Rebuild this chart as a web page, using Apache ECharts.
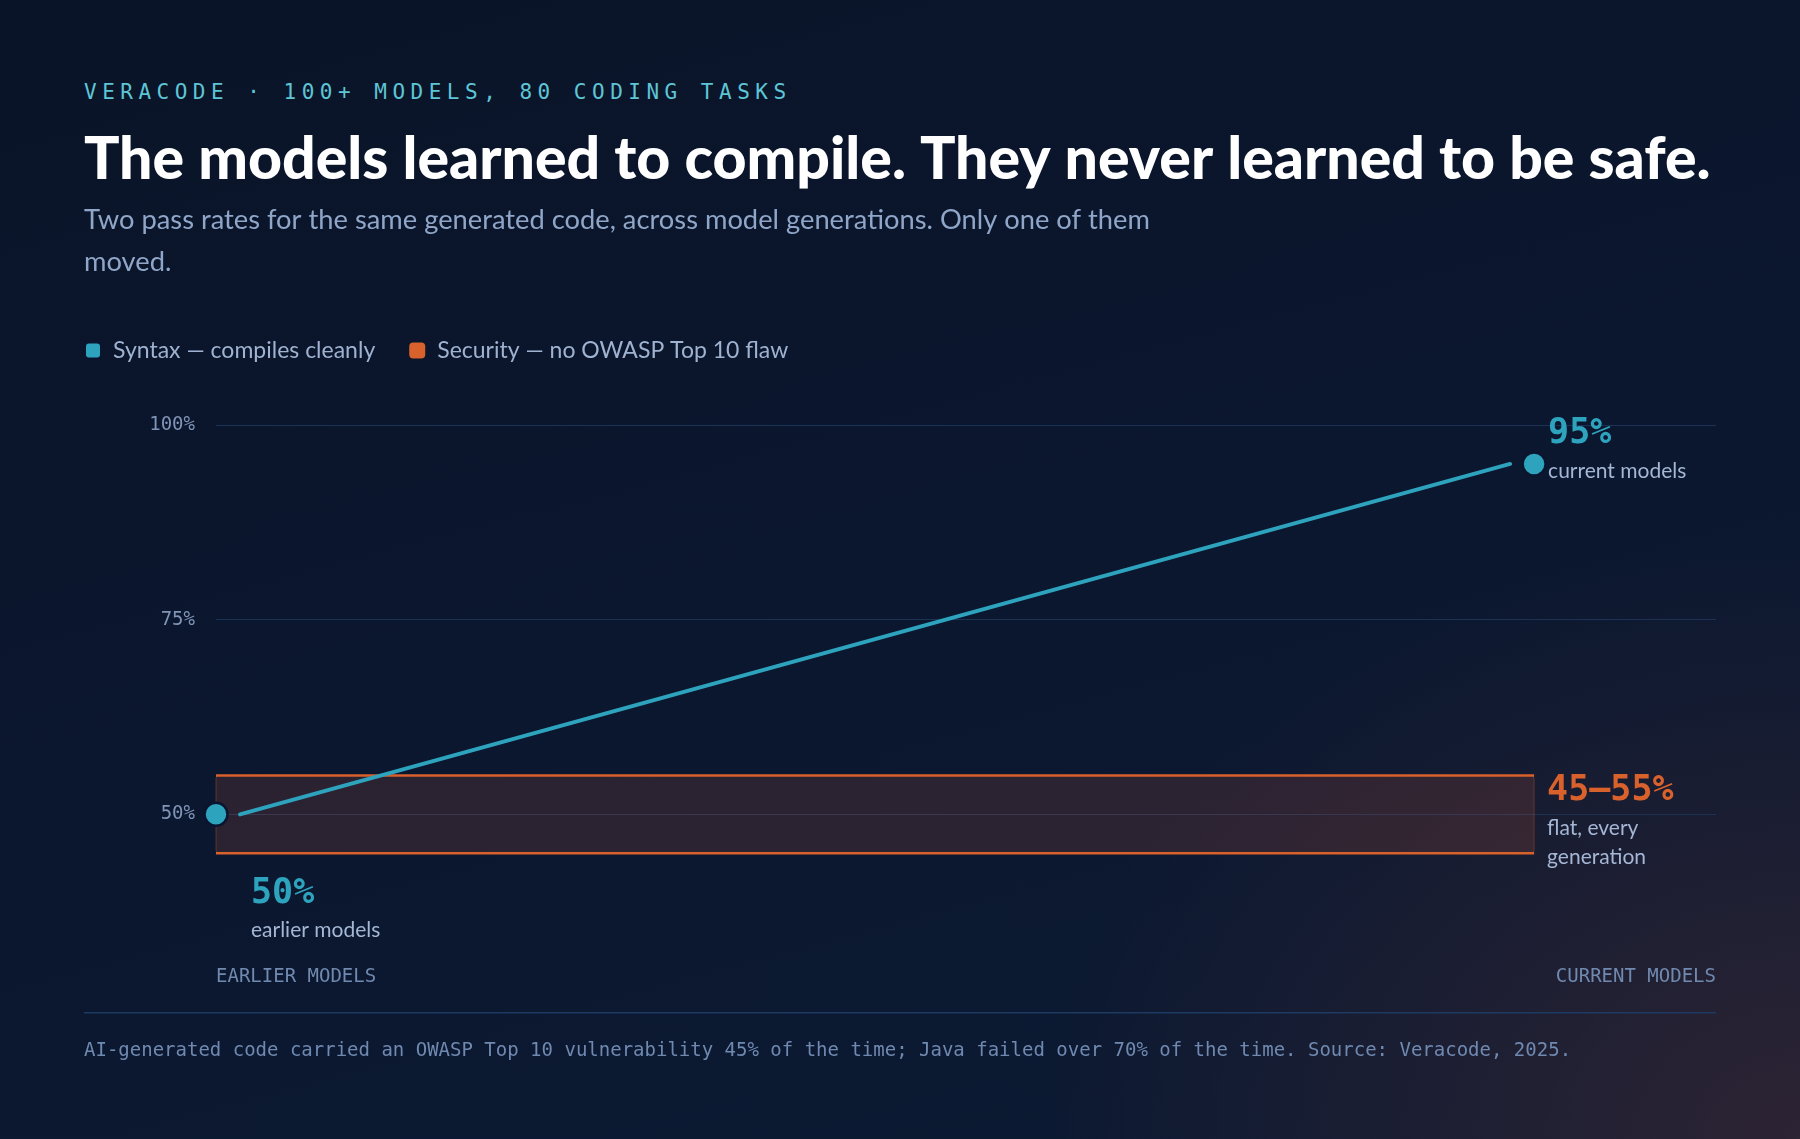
<!DOCTYPE html>
<html><head><meta charset="utf-8">
<script src="https://cdn.jsdelivr.net/npm/echarts@6/dist/echarts.min.js"></script>
<style>
html,body{margin:0;padding:0;width:1800px;height:1139px;overflow:hidden;}
body{background:
  radial-gradient(ellipse 760px 600px at 1800px 1139px, rgba(66,42,52,0.6) 0%, rgba(66,42,52,0) 100%),
  linear-gradient(165deg,#0a1428 0%,#0b172f 50%,#0c1a33 100%);}
#eyebrow{position:absolute;left:84px;top:81px;font-family:"DejaVu Sans Mono",monospace;font-size:21px;line-height:22px;letter-spacing:5.5px;color:#5ec5d6;white-space:nowrap;}
#chart{position:absolute;left:0;top:0;width:1800px;height:1139px;}
</style></head>
<body>
<div id="eyebrow">VERACODE · 100+ MODELS, 80 CODING TASKS</div>
<div id="chart"></div>
<script>
// ---- data ----
const stages = ['EARLIER MODELS', 'CURRENT MODELS'];
const stageX = [0, 1];
const syntaxPct = [50, 95];
const syntaxValueLabels = ['50%', '95%'];
const syntaxNotes = ['earlier models', 'current models'];
const securityLow = [45, 45];
const securityHigh = [55, 55];
const securityValueLabel = '45–55%';
const securityNotes = ['flat, every', 'generation'];
const yTicks = [25, 50, 75, 100];
const seriesNames = ['Syntax — compiles cleanly', 'Security — no OWASP Top 10 flaw'];
const titleText = 'The models learned to compile. They never learned to be safe.';
const subtitleText = 'Two pass rates for the same generated code, across model generations. Only one of them moved.';
const footerText = 'AI-generated code carried an OWASP Top 10 vulnerability 45% of the time; Java failed over 70% of the time. Source: Veracode, 2025.';

// ---- style ----
const CYAN = '#2ea3bd';
const ORANGE = '#d8612c';
const SANS = 'Lato';
const MONO = 'DejaVu Sans Mono';
const NOTE = '#a5b7d4';

const chart = echarts.init(document.getElementById('chart'), null, {renderer: 'canvas'});

const syntaxPoints = stageX.map((x, i) => [x, syntaxPct[i]]);
const bandData = [[stageX[0], securityLow[0], stageX[stageX.length - 1], securityHigh[securityHigh.length - 1]]];
const lineData = [[stageX[0], syntaxPct[0], stageX[stageX.length - 1], syntaxPct[syntaxPct.length - 1]]];

const option = {
  backgroundColor: 'transparent',
  animation: false,
  title: [
    {text: titleText, left: 84, top: 127, padding: 0,
     textStyle: {fontFamily: SANS, fontWeight: 900, fontSize: 59, lineHeight: 66, color: '#ffffff'}},
    {text: subtitleText, left: 84, top: 199, padding: 0,
     textStyle: {fontFamily: SANS, fontWeight: 'normal', fontSize: 27.3, lineHeight: 42, color: '#8fa6c8', width: 1110, overflow: 'break'}},
    {text: footerText, left: 84, top: 1040, padding: 0,
     textStyle: {fontFamily: MONO, fontWeight: 'normal', fontSize: 19, lineHeight: 22, color: '#6f89b0'}}
  ],
  legend: {
    left: 84, top: 339, padding: 0,
    itemWidth: 16, itemHeight: 16, itemGap: 34, icon: 'roundRect',
    data: seriesNames,
    textStyle: {fontFamily: SANS, fontSize: 23, color: '#9fb2d0', padding: [0, 0, 0, 7]},
    selectedMode: false
  },
  grid: {left: 216, right: 84, top: 425, bottom: 130, containLabel: false},
  xAxis: {
    type: 'value', min: 0, max: 1.138,
    axisLine: {show: false}, axisTick: {show: false}, axisLabel: {show: false}, splitLine: {show: false}
  },
  yAxis: {
    type: 'value', min: yTicks[0], max: yTicks[yTicks.length - 1], interval: 25,
    axisLine: {show: false}, axisTick: {show: false},
    axisLabel: {
      margin: 21, fontFamily: MONO, fontSize: 19, color: '#7f94b6',
      formatter: v => (v === yTicks[0] ? '' : v + '%')
    },
    splitLine: {show: true, showMinLine: false, lineStyle: {color: '#1b3254', width: 1}}
  },
  graphic: [
    {type: 'text', left: 216, top: 968, style: {text: stages[0], font: '19px "' + MONO + '"', fill: '#7089ae'}},
    {type: 'text', right: 84, top: 968, style: {text: stages[1], font: '19px "' + MONO + '"', fill: '#7089ae', align: 'right'}},
    {type: 'rect', left: 84, top: 1012, shape: {width: 1632, height: 1.5}, style: {fill: '#1d3a62'}}
  ],
  series: [
    {
      name: seriesNames[1], type: 'custom', z: 1,
      itemStyle: {color: ORANGE},
      encode: {x: [0, 2], y: [1, 3]},
      data: bandData,
      renderItem: function (params, api) {
        const tl = api.coord([api.value(0), api.value(3)]);
        const br = api.coord([api.value(2), api.value(1)]);
        const w = br[0] - tl[0], h = br[1] - tl[1];
        return {
          type: 'group', children: [
            {type: 'rect', shape: {x: tl[0], y: tl[1], width: w, height: h, r: 3},
             style: {fill: 'rgba(214,92,62,0.16)', stroke: 'rgba(216,97,44,0.35)', lineWidth: 1}},
            {type: 'line', shape: {x1: tl[0], y1: tl[1], x2: br[0], y2: tl[1]}, style: {stroke: ORANGE, lineWidth: 2.5}},
            {type: 'line', shape: {x1: tl[0], y1: br[1], x2: br[0], y2: br[1]}, style: {stroke: ORANGE, lineWidth: 2.5}},
            {type: 'text', x: br[0] + 13, y: tl[1] + 16,
             style: {text: securityValueLabel, font: 'bold 35px "' + MONO + '"', fill: ORANGE, verticalAlign: 'middle'}},
            {type: 'text', x: br[0] + 13, y: tl[1] + 53,
             style: {text: securityNotes[0], font: '21px "' + SANS + '"', fill: NOTE, verticalAlign: 'middle'}},
            {type: 'text', x: br[0] + 13, y: tl[1] + 82,
             style: {text: securityNotes[1], font: '21px "' + SANS + '"', fill: NOTE, verticalAlign: 'middle'}}
          ]
        };
      }
    },
    {
      name: 'syntaxLine', type: 'custom', z: 3,
      encode: {x: [0, 2], y: [1, 3]},
      data: lineData,
      renderItem: function (params, api) {
        const p0 = api.coord([api.value(0), api.value(1)]);
        const p1 = api.coord([api.value(2), api.value(3)]);
        const gap = 24;
        return {type: 'line',
          shape: {x1: p0[0] + gap, y1: p0[1], x2: p1[0] - gap, y2: p1[1]},
          style: {stroke: CYAN, lineWidth: 4, lineCap: 'round'}};
      }
    },
    {
      name: seriesNames[0], type: 'scatter', z: 4,
      symbol: 'circle', symbolSize: 23,
      itemStyle: {color: CYAN, borderColor: '#0a1630', borderWidth: 2.5, opacity: 1},
      data: syntaxPoints
    },
    {
      name: 'syntaxNotes', type: 'custom', z: 5,
      encode: {x: 0, y: 1},
      data: syntaxPoints,
      renderItem: function (params, api) {
        const p = api.coord([api.value(0), api.value(1)]);
        const i = params.dataIndex;
        const last = i === syntaxPoints.length - 1;
        const x = last ? p[0] + 14 : p[0] + 35;
        const y1 = last ? p[1] - 30 : p[1] + 80;
        const y2 = last ? p[1] + 7 : p[1] + 116;
        return {type: 'group', children: [
          {type: 'text', x: x, y: y1, style: {text: syntaxValueLabels[i], font: 'bold 35px "' + MONO + '"', fill: CYAN, verticalAlign: 'middle'}},
          {type: 'text', x: x, y: y2, style: {text: syntaxNotes[i], font: '21px "' + SANS + '"', fill: NOTE, verticalAlign: 'middle'}}
        ]};
      }
    }
  ]
};
chart.setOption(option);
</script>
</body></html>
